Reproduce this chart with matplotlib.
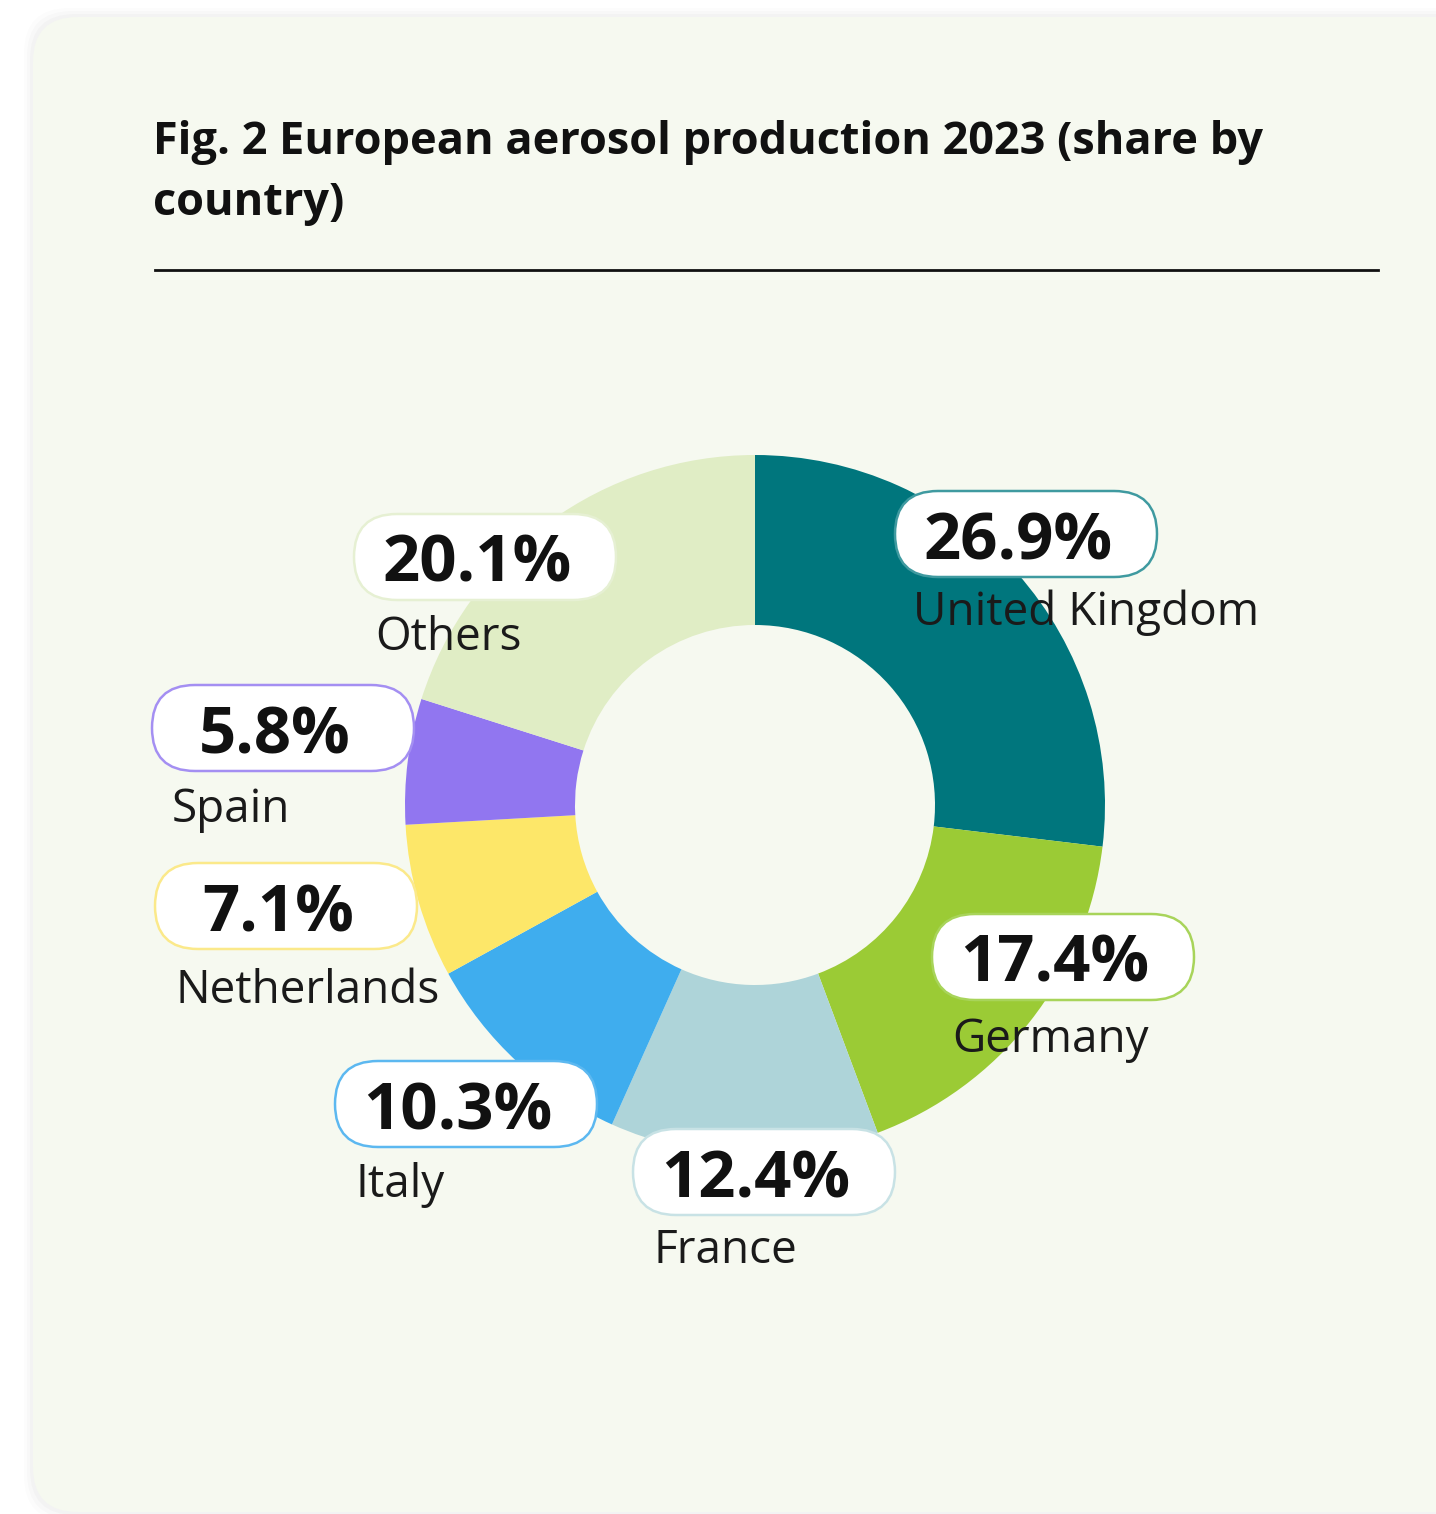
import matplotlib
matplotlib.use("Agg")
import matplotlib.pyplot as plt
from matplotlib.patches import FancyBboxPatch

# data
countries = ["United Kingdom", "Germany", "France", "Italy", "Netherlands", "Spain", "Others"]
shares = [26.9, 17.4, 12.4, 10.3, 7.1, 5.8, 20.1]
colors = ["#00767d", "#9bcb35", "#aed4d9", "#3fadee", "#fde769", "#9176f0", "#e0edc5"]
edge_colors = ["#3f9aa0", "#a8d45a", "#c8e2e5", "#5cb8f0", "#fbe98a", "#a48ff2", "#e6f0d3"]
title_lines = ["Fig. 2 European aerosol production 2023 (share by", "country)"]

# layout (pixel coords, y from top)
W, H = 1436, 1514
box_centers = [(1026, 534), (1063, 957), (764, 1172), (466, 1104), (286, 906), (283, 728), (485, 557)]
name_pos = [(913, 625), (952, 1052), (654, 1263), (356, 1197), (176, 1003), (172, 822), (375, 650)]
BOX_W, BOX_H = 262, 86

plt.rcParams['font.family'] = ['Open Sans', 'DejaVu Sans']

fig = plt.figure(figsize=(W / 100, H / 100), dpi=100)
fig.patch.set_facecolor("white")
ax = fig.add_axes([0, 0, 1, 1])

def fy(y):
    return H - y

# panel with faint shadow
for i, a in enumerate([0.02, 0.015, 0.01]):
    sh = FancyBboxPatch((33 - 3 * (i + 1), fy(1512) - 3 * (i + 1)), 1500, 1495 + 6 * (i + 1),
                        boxstyle="round,pad=0,rounding_size=45",
                        facecolor="#000000", alpha=a, edgecolor="none", zorder=0)
    ax.add_patch(sh)
panel = FancyBboxPatch((33, fy(1512)), 1500, 1495,
                       boxstyle="round,pad=0,rounding_size=45",
                       facecolor="#f6f9f0", edgecolor="none", zorder=1)
ax.add_patch(panel)

# title and rule
for k, line in enumerate(title_lines):
    ax.text(153, fy(154 + 61 * k), line, fontsize=32.5, fontweight="bold", color="#111111",
            ha="left", va="baseline", zorder=5)
ax.plot([155, 1378], [fy(270), fy(270)], color="#111111", lw=2, zorder=5)

# donut
wedges, _ = ax.pie(shares, colors=colors, startangle=90, counterclock=False,
                   radius=350, center=(755, fy(805)),
                   wedgeprops=dict(width=170, linewidth=0), frame=True)
for w in wedges:
    w.set_zorder(3)

# labels
for i, (name, val) in enumerate(zip(countries, shares)):
    cx, cy = box_centers[i]
    box = FancyBboxPatch((cx - BOX_W / 2, fy(cy) - BOX_H / 2), BOX_W, BOX_H,
                         boxstyle="round,pad=0,rounding_size=43",
                         facecolor="white", edgecolor=edge_colors[i], lw=1.8, zorder=6)
    ax.add_patch(box)
    ax.text(cx - 8, fy(cy + 25), f"{val:.1f}%", fontsize=47, fontweight="bold",
            color="#111111", ha="center", va="baseline", zorder=7)
    nx, ny = name_pos[i]
    ax.text(nx, fy(ny), name, fontsize=33, color="#1a1a1a",
            ha="left", va="baseline", zorder=7)

ax.set_xlim(0, W)
ax.set_ylim(0, H)
ax.set_aspect("auto")
ax.axis("off")

fig.savefig("out.png", dpi=100, facecolor="white")
